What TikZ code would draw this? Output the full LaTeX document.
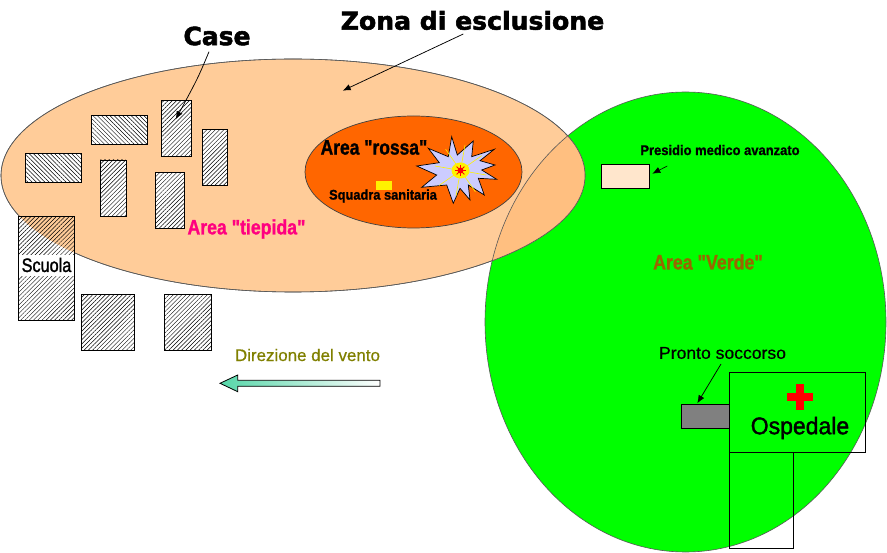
\documentclass[tikz,border=0pt]{standalone}
\usepackage{fontspec}
\setmainfont{Liberation Sans}[Ligatures=TeXOff]
\newfontfamily\heavyfont{DejaVu Sans Bold}[FakeBold=2.2]
\newfontfamily\fatfont{Liberation Sans Bold}[FakeBold=1.2,Ligatures=TeXOff]
\newfontfamily\midfont{Liberation Sans}[FakeBold=.6,Ligatures=TeXOff]
\newfontfamily\semifont{Liberation Sans}[FakeBold=1.6,Ligatures=TeXOff]
\usetikzlibrary{patterns.meta,arrows.meta,shadings}
\definecolor{warmzone}{HTML}{FFCC99}
\definecolor{overlapzone}{HTML}{FFBF80}
\definecolor{redzone}{HTML}{FF6600}
\definecolor{greenzone}{HTML}{00FF00}
\definecolor{starfill}{HTML}{CCCCFF}
\definecolor{medbox}{HTML}{FFE6CC}
\definecolor{windtext}{HTML}{808000}
\definecolor{windtip}{HTML}{55D6A8}
\definecolor{warmtext}{HTML}{FF0080}
\definecolor{greentext}{HTML}{996600}
\tikzset{
  x=1pt,y=-1pt,
  zone/.style={draw=black!65,line width=.6pt},
  house/.style={draw=black,line width=.8pt},
  hatchne/.style={pattern={Lines[angle=45,distance=3pt,line width=.45pt]}},
  hatchnw/.style={pattern={Lines[angle=-45,distance=3pt,line width=.45pt]}},
  plain/.style={draw=black,line width=.7pt},
  pointer/.style={draw=black,line width=.75pt,-{Latex[length=8pt,width=6.5pt]}},
  lbl/.style={inner sep=0pt,outer sep=0pt},
}
\newcommand{\hl}[3]{\scalebox{#1}[#2]{#3}}
\begin{document}
\begin{tikzpicture}
\useasboundingbox (0,0) rectangle (887,553);
\fill[white] (0,0) rectangle (887,553);
% the two zones and their common part
\path[fill=greenzone,zone] (685.5,322) ellipse [x radius=200.5,y radius=230];
\path[fill=warmzone,zone] (293,175.5) ellipse [x radius=292,y radius=116.5];
\begin{scope}
  \clip (293,175.5) ellipse [x radius=292,y radius=116.5];
  \path[fill=overlapzone,zone] (685.5,322) ellipse [x radius=200.5,y radius=230];
\end{scope}
\draw[zone] (293,175.5) ellipse [x radius=292,y radius=116.5];
% red area
\path[fill=redzone,draw=black!75,line width=.7pt] (413.5,172) ellipse [x radius=108.5,y radius=56];
% explosion
\path[fill=starfill,draw=black,line width=.7pt]
  (451.7,136.7)--(457.3,155)--(473.3,141)--(471.7,156.7)--(494.3,149.3)--(480,160.7)
  --(495,165)--(481.7,170)--(496.7,179.3)--(478.3,178.3)--(484.3,195)--(468.3,185)
  --(470,200)--(460,188.3)--(453.3,203.3)--(446.7,185)--(421.7,187.3)--(436.7,175)
  --(416.7,166)--(439.3,162.7)--(428.3,148.3)--(448.3,156.7)--cycle;
\foreach \a in {10,55,100,145,190,235,280,325}
  \draw[yellow,line width=.6pt] (460.5,170.5)--++(\a:26);
\fill[yellow] (460.5,170.5) ellipse [x radius=9,y radius=8];
\fill[red] (460.5,170.5) circle [radius=3];
\foreach \a in {0,45,...,315}
  \draw[red,line width=.8pt] (460.5,170.5)--++(\a:5.5);
\node[fill=yellow,inner sep=0pt,minimum width=16pt,minimum height=9pt] (squad) at (384,186) {};
% houses
\path[house,fill=white] (91.5,115.5) rectangle (147.5,144.5);
\path[house,hatchnw] (91.5,115.5) rectangle (147.5,144.5);
\path[house,fill=white] (161.5,100.5) rectangle (191.5,156.5);
\path[house,hatchne] (161.5,100.5) rectangle (191.5,156.5);
\path[house,fill=white] (202,129.5) rectangle (227,185.5);
\path[house,hatchne] (202,129.5) rectangle (227,185.5);
\path[house,fill=white] (25,153.5) rectangle (81,182.5);
\path[house,hatchnw] (25,153.5) rectangle (81,182.5);
\path[house,fill=white] (100.5,160) rectangle (126.5,216.5);
\path[house,hatchne] (100.5,160) rectangle (126.5,216.5);
\path[house,fill=white] (155,172.5) rectangle (184.5,228);
\path[house,hatchne] (155,172.5) rectangle (184.5,228);
% the school lets the zone show through its hatching
\begin{scope}
  \clip (18.5,216.5) rectangle (74.5,320.5);
  \fill[white] (18.5,216.5) rectangle (74.5,320.5);
  \fill[warmzone] (293,175.5) ellipse [x radius=292,y radius=116.5];
\end{scope}
\path[house,hatchne] (18.5,216.5) rectangle (74.5,320.5);
\path[house,fill=white] (81.5,294.5) rectangle (134.5,350);
\path[house,hatchne] (81.5,294.5) rectangle (134.5,350);
\path[house,fill=white] (164,294.5) rectangle (211.5,350);
\path[house,hatchne] (164,294.5) rectangle (211.5,350);
\fill[white] (19,255) rectangle (74,276);
\node[lbl] (scuola) at (46.5,265) {\hl{1.12}{1.34}{\fontsize{14.5}{16}\semifont Scuola}};
% hospital
\path[plain] (729.7,372.7) rectangle (865.7,452.3);
\path[plain] (729.7,452.3) rectangle (793.3,548.3);
\path[plain,fill=black!50] (681.3,404.3) rectangle (729.7,428.3);
\fill[red] (795.7,383.7) rectangle (804.3,410);
\fill[red] (787,392.7) rectangle (813,401.3);
\path[plain,fill=medbox] (601.3,164.3) rectangle (649.7,188.7);
% wind arrow
\path[shade,left color=windtip,right color=white,draw=black,line width=.8pt]
  (220,383.3)--(237.7,375)--(237.7,380.3)--(380,380.3)--(380,386.3)--(237.7,386.3)--(237.7,391.7)--cycle;
% labels
\node[lbl] (zona) at (472.5,20.5) {\hl{1.025}{1}{\fontsize{24.5}{28}\heavyfont Zona di esclusione}};
\node[lbl] (case) at (217,36) {\fontsize{25}{28}\heavyfont Case};
\node[lbl] (rossa) at (374,147.5) {\hl{1.09}{1.3}{\fontsize{16}{18}\fatfont Area "rossa"}};
\node[lbl] (sanit) at (383,196) {\hl{1.07}{1.17}{\fontsize{12}{14}\fatfont Squadra sanitaria}};
\node[lbl,text=warmtext] (tiepida) at (246.5,229) {\hl{1.105}{1.3}{\fontsize{16}{18}\fatfont Area "tiepida"}};
\node[lbl,text=greentext] (verde) at (708,262) {\hl{1.11}{1.3}{\fontsize{16}{18}\fatfont Area "Verde"}};
\node[lbl] (presidio) at (720,150) {\hl{1.08}{1.17}{\fontsize{12}{14}\fatfont Presidio medico avanzato}};
\node[lbl] (pronto) at (722.5,353) {\hl{1.255}{1.22}{\fontsize{14}{16}\midfont Pronto soccorso}};
\node[lbl,text=windtext] (vento) at (307.5,355) {\hl{1.21}{1.2}{\fontsize{14}{16}\midfont Direzione del vento}};
\node[lbl] (osped) at (800,428) {\hl{1.15}{1.2}{\fontsize{20}{22}\semifont Ospedale}};
% pointers
\coordinate (caseTail) at (209,51.7);
\coordinate (caseTip) at (175.7,119.3);
\coordinate (zonaTail) at (463.3,34);
\coordinate (zonaTip) at (342.7,90.7);
\coordinate (presTail) at (667.3,166);
\coordinate (presTip) at (652.3,173.7);
\coordinate (prontoTail) at (721,364);
\coordinate (prontoTip) at (697.3,403.3);
\draw[pointer] (caseTail) .. controls (198,78) .. (caseTip);
\draw[pointer] (zonaTail) -- (zonaTip);
\draw[pointer,line width=.6pt] (presTail) -- (presTip);
\draw[pointer] (prontoTail) -- (prontoTip);
\end{tikzpicture}
\end{document}
